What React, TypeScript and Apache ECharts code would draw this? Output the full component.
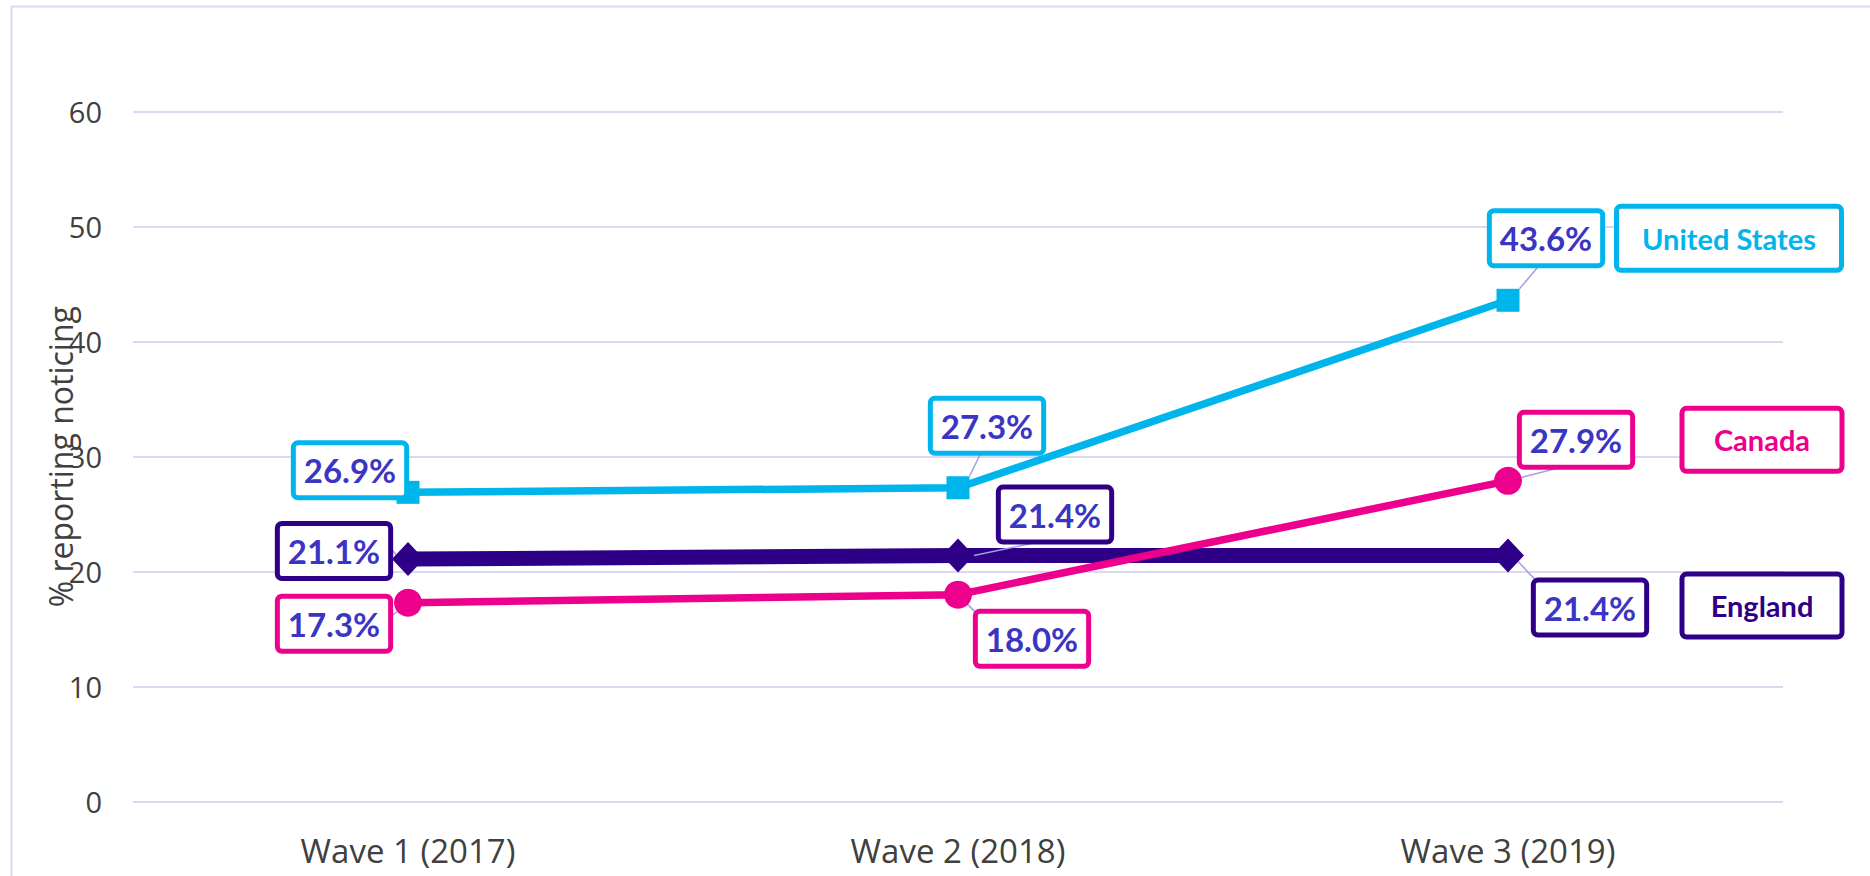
import React, { useEffect, useRef } from "react";
import * as echarts from "echarts";

const categories = ["Wave 1 (2017)", "Wave 2 (2018)", "Wave 3 (2019)"];
const seriesNames = ["England", "Canada", "United States"];
const englandValues = [21.1, 21.4, 21.4];
const canadaValues = [17.3, 18.0, 27.9];
const usValues = [26.9, 27.3, 43.6];
const yTicks = { min: 0, max: 60, interval: 10 };
const yAxisTitle = "% reporting noticing";

// layout / style (not data)
const COLORS = { England: "#2E0087", Canada: "#EC008C", "United States": "#00B5EC" };
const LABEL_TEXT = "#3B35C3";
const GRID_COLOR = "#D9D9F3";
const LABEL_OFFSETS: Record<string, number[][]> = {
  England: [[-74, -8], [97, -41], [82, 52]],
  Canada: [[-74, 21], [74, 44], [68, -41]],
  "United States": [[-58, -22], [29, -62], [38, -62]],
};
const NAME_OFFSETS: Record<string, number[]> = {
  England: [254, 50],
  Canada: [254, -41],
  "United States": [221, -62],
};
const NAME_WIDTH: Record<string, number> = { England: 155, Canada: 155, "United States": 220 };
const LINE_WIDTH: Record<string, number> = { England: 15, Canada: 7.5, "United States": 7.5 };
const SYMBOL: Record<string, string> = { England: "diamond", Canada: "circle", "United States": "rect" };
const SYMBOL_SIZE: Record<string, number | number[]> = { England: [32, 34], Canada: 28, "United States": 23 };

export default function App() {
  const ref = useRef<HTMLDivElement>(null);
  useEffect(() => {
    document.body.style.margin = "0";
    const chart = echarts.init(ref.current!, null, { renderer: "svg" });
    const valuesByName: Record<string, number[]> = {
      England: englandValues,
      Canada: canadaValues,
      "United States": usValues,
    };
    const series = seriesNames.map((name) => {
      const vals = valuesByName[name];
      const color = (COLORS as any)[name];
      return {
        name,
        type: "line",
        z: name === "England" ? 2 : 3,
        data: vals.map((v, i) => ({
          value: v,
          label: { offset: LABEL_OFFSETS[name][i] },
        })),
        symbol: SYMBOL[name],
        symbolSize: SYMBOL_SIZE[name],
        showSymbol: true,
        lineStyle: { color, width: LINE_WIDTH[name] },
        itemStyle: { color },
        label: {
          show: true,
          position: "inside",
          formatter: (p: any) => p.value.toFixed(1) + "%",
          fontFamily: "Lato",
          fontWeight: "bold",
          fontSize: 33,
          lineHeight: 38,
          color: LABEL_TEXT,
          backgroundColor: "#ffffff",
          borderColor: color,
          borderWidth: 5,
          borderRadius: 2,
          padding: [6, 8],
        },
        labelLine: {
          show: true,
          showAbove: false,
          lineStyle: { color: "#A29EE2", width: 1.5 },
        },
        markPoint: {
          symbol: "circle",
          symbolSize: 1,
          itemStyle: { color: "rgba(0,0,0,0)" },
          data: [
            {
              coord: [vals.length - 1, vals[vals.length - 1]],
              label: {
                show: true,
                position: "inside",
                offset: NAME_OFFSETS[name],
                formatter: name,
                fontFamily: "Lato",
                fontWeight: "bold",
                fontSize: 29,
                color,
                width: NAME_WIDTH[name],
                height: name === "United States" ? 59 : 58,
                lineHeight: name === "United States" ? 59 : 58,
                align: "center",
                verticalAlign: "middle",
                backgroundColor: "#ffffff",
                borderColor: color,
                borderWidth: 5,
                borderRadius: 2,
              },
            },
          ],
        },
      };
    });

    chart.setOption({
      animation: false,
      backgroundColor: "#ffffff",
      grid: { left: 133, right: 87, top: 111.7, bottom: 74.3, containLabel: false },
      xAxis: {
        type: "category",
        data: categories,
        boundaryGap: true,
        axisLine: { show: false },
        axisTick: { show: false },
        axisLabel: {
          fontFamily: "Open Sans",
          fontSize: 33,
          color: "#404040",
          margin: 32,
        },
      },
      yAxis: {
        type: "value",
        min: yTicks.min,
        max: yTicks.max,
        interval: yTicks.interval,
        name: yAxisTitle,
        nameLocation: "middle",
        nameRotate: 90,
        nameGap: 57,
        nameMoveOverlap: false,
        nameTextStyle: { fontFamily: "Open Sans", fontSize: 32, color: "#404040" },
        axisLine: { show: false },
        axisTick: { show: false },
        axisLabel: { fontFamily: "Open Sans", fontSize: 29, color: "#404040", margin: 31 },
        splitLine: { lineStyle: { color: GRID_COLOR, width: 2 } },
      },
      graphic: [
        {
          type: "rect",
          silent: true,
          shape: { x: 11.5, y: 6.5, width: 2500, height: 2500 },
          style: { fill: "none", stroke: GRID_COLOR, lineWidth: 2 },
          z: -10,
        },
      ],
      series,
    });
    return () => chart.dispose();
  }, []);
  return (
    <div
      ref={ref}
      style={{ position: "absolute", left: 0, top: 0, width: 1870, height: 876 }}
    />
  );
}
